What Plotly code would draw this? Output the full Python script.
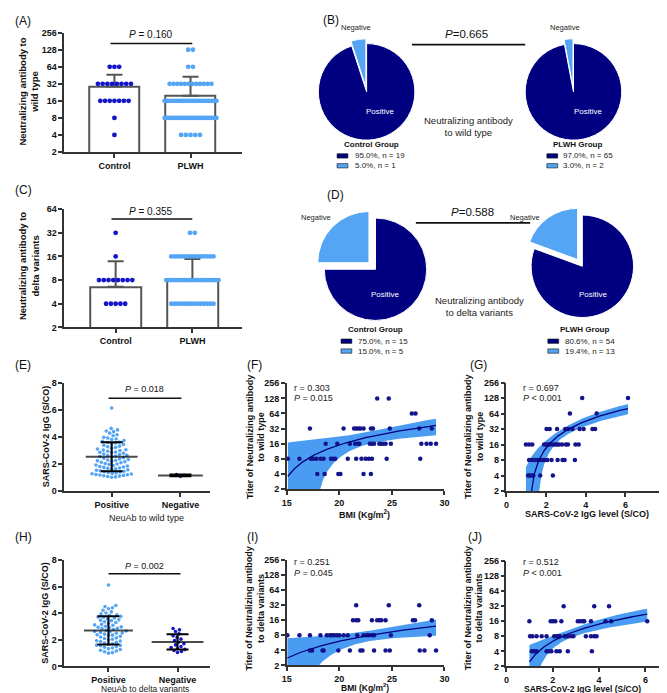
import numpy as np
import plotly.graph_objects as go

W, H = 667, 693
FONT = "Liberation Sans, Arial, sans-serif"
NAVY = "#000080"
DOT_DARK = "#1414c8"
DOT_SC = "#14148c"
LIGHT = "#55a5f5"
BAND = "#4a9cf2"
GREY = "#555555"
AXC = "#333333"

# ---------------- data ----------------
GROUPS = ["Control", "PLWH"]
LOG_TICKS_A = [2, 4, 8, 16, 32, 64, 128, 256]
LOG_TICKS_C = [2, 4, 8, 16, 32, 64]

# (A) neutralizing antibody titer to wild type: titer levels and counts
A_ctrl_titer = [64, 32, 16, 8, 4]
A_ctrl_count = [3, 8, 7, 1, 1]
A_plwh_titer = [128, 64, 32, 16, 8, 4]
A_plwh_count = [2, 2, 12, 21, 25, 5]
A_p_text = "<i>P</i> = 0.160"

# (C) delta variants (0 = negative, counted in mean but below the axis)
C_ctrl_titer = [32, 16, 8, 4, 0]
C_ctrl_count = [1, 1, 8, 5, 5]
C_plwh_titer = [32, 16, 8, 4, 0]
C_plwh_count = [2, 14, 24, 14, 13]
C_p_text = "<i>P</i> = 0.355"

# (B)/(D) pies
PIE_LABELS = ["Positive", "Negative"]
B_ctrl = [19, 1]
B_plwh = [65, 2]
B_ctrl_legend = ["95.0%, n = 19", "5.0%, n = 1"]
B_plwh_legend = ["97.0%, n = 65", "3.0%, n = 2"]
D_ctrl = [15, 5]
D_plwh = [54, 13]
D_ctrl_legend = ["75.0%, n = 15", "15.0%, n = 5"]
D_plwh_legend = ["80.6%, n = 54", "19.4%, n = 13"]

# (E) IgG by NeuAb to wild type
E_pos = [6.12, 4.62, 4.51, 4.43, 4.38, 4.27, 4.15, 4.08,
         3.96, 3.91, 3.84, 3.80, 3.72, 3.66, 3.61, 3.55, 3.49, 3.43, 3.38, 3.31, 3.27,
         3.22, 3.15, 3.10, 3.04, 2.98, 2.93, 2.88, 2.84, 2.79, 2.73, 2.69, 2.64, 2.58,
         2.55, 2.51, 2.46, 2.42, 2.37, 2.33, 2.29, 2.24, 2.20, 2.16, 2.12, 2.08, 2.03,
         1.99, 1.96, 1.92, 1.88, 1.85, 1.81, 1.77, 1.74, 1.70, 1.67, 1.63, 1.60, 1.56,
         1.53, 1.49, 1.46, 1.43, 1.40, 1.36, 1.33, 1.30, 1.27, 1.25, 1.22, 1.20, 1.18,
         1.15, 1.13, 1.10, 1.07, 1.04, 1.01, 2.61, 2.27, 3.02, 2.86, 3.58]
E_neg = [1.08, 1.15, 1.22]
E_p_text = "<i>P</i> = 0.018"

# (H) IgG by NeuAb to delta variants
H_pos = [6.12, 4.58, 4.50, 4.41, 4.33, 4.22, 4.10, 4.02, 3.95, 3.88, 3.83, 3.76, 3.70,
         3.64, 3.57, 3.50, 3.44, 3.36, 3.30, 3.22, 3.16, 3.09, 3.02, 2.97, 2.90, 2.84,
         2.78, 2.71, 2.66, 2.60, 2.55, 2.49, 2.43, 2.38, 2.32, 2.26, 2.21, 2.15, 2.10,
         2.04, 1.98, 1.93, 1.87, 1.82, 1.76, 1.71, 1.66, 1.60, 1.55, 1.49, 1.44, 1.38,
         1.33, 1.27, 1.22, 1.16, 1.10, 1.04, 1.00, 2.63, 2.35, 3.12, 2.87, 3.48, 1.91,
         2.52, 3.71, 1.58, 2.95]
H_neg = [2.85, 2.75, 2.62, 2.45, 2.30, 2.18, 2.05, 1.95, 1.82, 1.70, 1.62, 1.50,
         1.42, 1.35, 1.28, 1.20, 1.12, 1.05]
H_p_text = "<i>P</i> = 0.002"

# (F) BMI vs titer to wild type (titer -> BMI values; 0 = negative, below axis)
F_rows = {
    128: [23.6, 24.7],
    64: [26.9, 27.25],
    32: [17.2, 20.4, 21.4, 21.6, 21.8, 22.0, 22.3, 23.0, 23.2, 24.8, 27.6, 28.8],
    16: [18.7, 19.8, 21.0, 21.5, 21.8, 21.9, 22.9, 23.1, 23.3, 23.8, 24.0, 24.2, 24.4,
         24.9, 27.8, 28.3, 28.7, 29.2],
    8: [15.1, 16.2, 17.3, 17.5, 17.8, 18.2, 18.5, 19.2, 19.4, 19.6, 20.8, 21.6, 22.1,
        22.5, 22.8, 23.1, 24.5, 27.7],
    4: [17.9, 18.6, 19.9, 20.1, 22.3, 23.0],
    0: [16.5, 18.0, 19.5],
}
F_stats = ["r = 0.303", "<i>P</i> = 0.015"]

# (G) IgG vs titer to wild type
G_rows = {
    128: [3.82, 6.13],
    64: [3.20, 4.55],
    32: [2.02, 2.18, 2.55, 2.96, 3.12, 3.33, 3.69, 3.89, 4.34, 4.47],
    16: [0.98, 1.14, 1.30, 1.90, 2.00, 2.10, 2.20, 2.35, 2.45, 2.55, 2.65, 2.80, 3.00,
         3.10, 3.48, 3.64],
    8: [1.14, 1.25, 1.37, 1.46, 1.58, 1.70, 1.82, 1.95, 2.06, 2.27, 2.58, 2.83, 2.93, 3.45],
    4: [1.09, 1.17, 1.28, 1.35, 1.70, 2.34],
    0: [1.08, 1.15, 1.22],
}
G_stats = ["r = 0.697", "<i>P</i> < 0.001"]

# (I) BMI vs titer to delta
I_rows = {
    32: [21.6, 24.7, 27.6],
    16: [21.3, 21.6, 21.8, 23.1, 23.6, 23.8, 24.0, 24.4, 27.0, 27.2, 28.8],
    8: [15.05, 16.2, 17.2, 18.2, 18.8, 19.1, 19.3, 19.5, 19.75, 20.0, 20.4, 20.8,
        21.7, 22.3, 22.6, 22.8, 23.1, 23.3, 24.9, 28.6],
    4: [17.2, 17.4, 18.4, 18.5, 19.9, 21.0, 22.0, 22.2, 23.3, 24.4, 24.8, 27.65,
        28.1, 29.2],
    0: [16.5, 17.0, 17.5, 18.2, 19.0, 19.6, 20.0, 20.3, 20.9, 21.5, 22.0, 22.6,
        22.8, 23.1, 23.7, 24.3, 25.0, 26.0],
}
I_stats = ["r = 0.251", "<i>P</i> = 0.045"]

# (J) IgG vs titer to delta
J_rows = {
    32: [2.47, 3.79, 4.43],
    16: [0.99, 1.91, 2.01, 2.11, 2.37, 3.08, 3.18, 3.29, 3.36, 3.65, 4.28, 4.52, 6.08],
    8: [1.02, 1.12, 1.30, 1.52, 1.73, 2.06, 2.16, 2.23, 2.30, 2.51, 2.58, 2.65, 2.79,
        2.89, 3.43, 3.65, 3.79, 3.89],
    4: [1.09, 1.16, 1.23, 1.30, 1.73, 1.83, 1.94, 2.16, 2.30, 2.65, 3.69],
    0: [2.85, 2.75, 2.62, 2.45, 2.30, 2.18, 2.05, 1.95, 1.82, 1.70, 1.62, 1.50,
        1.42, 1.35, 1.28, 1.20, 1.12, 1.05],
}
J_stats = ["r = 0.512", "<i>P</i> < 0.001"]


# ---------------- helpers ----------------
def px(x):
    return x / W


def py(y):
    return 1 - y / H


fig = go.Figure()
annotations = []
shapes = []


def ann(x, y, text, size=9, bold=False, color="#111111", angle=0,
        xanchor="center", yanchor="middle"):
    annotations.append(dict(
        x=px(x), y=py(y), xref="paper", yref="paper", text=text, showarrow=False,
        font=dict(family=FONT, size=size, color=color,
                  weight="bold" if bold else "normal"),
        textangle=angle, xanchor=xanchor, yanchor=yanchor))


def hline(x0, x1, y, width=1.5, color="#111111"):
    shapes.append(dict(type="line", xref="paper", yref="paper",
                       x0=px(x0), x1=px(x1), y0=py(y), y1=py(y),
                       line=dict(color=color, width=width)))


def rect(x0, x1, y0, y1, color):
    shapes.append(dict(type="rect", xref="paper", yref="paper",
                       x0=px(x0), x1=px(x1), y0=py(y1), y1=py(y0),
                       fillcolor=color, line=dict(color="#111111", width=0.6)))


def axis(**kw):
    d = dict(showline=True, linecolor=AXC, linewidth=1.5, ticks="outside",
             ticklen=4, tickwidth=1.5, tickcolor=AXC, showgrid=False,
             zeroline=False, fixedrange=True,
             tickfont=dict(family=FONT, size=9, color="#111111", weight="bold"))
    d.update(kw)
    return d


def xdom(a, b):
    return [px(a), px(b)]


def ydom(top, bottom):
    return [py(bottom), py(top)]


def expand(levels, counts):
    out = []
    for v, c in zip(levels, counts):
        out += [v] * c
    return np.array(out, dtype=float)


def row_points(levels, counts, center, step=0.062):
    xs, ys = [], []
    for v, c in zip(levels, counts):
        if v <= 0 or c == 0:
            continue
        w = min(step * (c - 1), 0.55 if c < 20 else 0.68)
        offs = np.linspace(-w / 2, w / 2, c) if c > 1 else np.array([0.0])
        xs += list(center + offs)
        ys += [v] * c
    return xs, ys


def swarm(vals, sx, sy, diam=4.0):
    vals = np.asarray(vals, dtype=float)
    order = np.argsort(vals)
    placed = []
    offs = np.zeros(len(vals))
    for i in order:
        v = vals[i]
        k = 0
        while True:
            cands = [0.0] if k == 0 else [k * 0.5, -k * 0.5]
            hit = None
            for c in cands:
                ok = True
                for ox, oy in placed:
                    if (c - ox) ** 2 + ((v - oy) * sy) ** 2 < diam ** 2:
                        ok = False
                        break
                if ok:
                    hit = c
                    break
            if hit is not None:
                offs[i] = hit / sx
                placed.append((hit, v))
                break
            k += 1
    return offs


# ---------------- (A) & (C) bar + dots ----------------
def bar_panel(xa, ya, ctrl_l, ctrl_c, plwh_l, plwh_c, barw):
    c_all = expand(ctrl_l, ctrl_c)
    p_all = expand(plwh_l, plwh_c)
    means = [c_all.mean(), p_all.mean()]
    sds = [c_all.std(ddof=1), p_all.std(ddof=1)]
    fig.add_trace(go.Bar(
        x=[0, 1], y=means, width=barw, xaxis=xa, yaxis=ya,
        marker=dict(color="white", line=dict(color=GREY, width=2)),
        error_y=dict(type="data", symmetric=False, array=sds, arrayminus=[0, 0],
                     color=GREY, thickness=2, width=8),
        showlegend=False, hoverinfo="skip"))
    cx, cy = row_points(ctrl_l, ctrl_c, 0)
    fig.add_trace(go.Scatter(x=cx, y=cy, mode="markers", xaxis=xa, yaxis=ya,
                             marker=dict(color=DOT_DARK, size=4.8),
                             showlegend=False, cliponaxis=False))
    qx, qy = row_points(plwh_l, plwh_c, 1)
    fig.add_trace(go.Scatter(x=qx, y=qy, mode="markers", xaxis=xa, yaxis=ya,
                             marker=dict(color=LIGHT, size=4.8),
                             showlegend=False, cliponaxis=False))


bar_panel("x", "y", A_ctrl_titer, A_ctrl_count, A_plwh_titer, A_plwh_count, 0.66)
bar_panel("x2", "y2", C_ctrl_titer, C_ctrl_count, C_plwh_titer, C_plwh_count, 0.66)


# ---------------- (E) & (H) scatter dot plots ----------------
def dot_panel(xa, ya, pos, neg, pos_col, neg_col, mw):
    offs_p = swarm(pos, 70, 13.7)
    offs_n = swarm(neg, 70, 13.7)
    fig.add_trace(go.Scatter(x=list(0 + offs_p), y=pos, mode="markers",
                             xaxis=xa, yaxis=ya,
                             marker=dict(color=pos_col, size=3.6),
                             showlegend=False))
    fig.add_trace(go.Scatter(x=list(1 + offs_n), y=neg, mode="markers",
                             xaxis=xa, yaxis=ya,
                             marker=dict(color=neg_col, size=3.6),
                             showlegend=False))
    m = [np.mean(pos), np.mean(neg)]
    s = [np.std(pos, ddof=1), np.std(neg, ddof=1)]
    fig.add_trace(go.Scatter(
        x=[0, 1], y=m, mode="markers", xaxis=xa, yaxis=ya,
        marker=dict(symbol="line-ew", size=mw, color="black",
                    line=dict(color="black", width=2)),
        error_y=dict(type="data", array=s, color="black", thickness=2, width=11),
        showlegend=False))


dot_panel("x3", "y3", E_pos, E_neg, LIGHT, DOT_DARK, [37, 32])
dot_panel("x4", "y4", H_pos, H_neg, LIGHT, DOT_DARK, [35, 37])


# ---------------- (F) (G) (I) (J) regressions ----------------
def reg_panel(xa, ya, rows):
    xs, ys = [], []
    for t, vals in rows.items():
        xs += vals
        ys += [t] * len(vals)
    x = np.array(xs, dtype=float)
    y = np.array(ys, dtype=float)
    n = len(x)
    b, a = np.polyfit(x, y, 1)
    res = y - (a + b * x)
    s = np.sqrt((res ** 2).sum() / (n - 2))
    xm = x.mean()
    sxx = ((x - xm) ** 2).sum()
    tcrit = 1.96 + 2.4 / (n - 2)
    vis = y > 0
    grid = np.linspace(x[vis].min(), x[vis].max(), 200)
    fit = a + b * grid
    half = tcrit * s * np.sqrt(1 / n + (grid - xm) ** 2 / sxx)
    up = fit + half
    lo = np.clip(fit - half, 0.05, None)
    fig.add_trace(go.Scatter(
        x=list(grid) + list(grid[::-1]), y=list(up) + list(lo[::-1]),
        fill="toself", fillcolor=BAND, line=dict(width=0), mode="lines",
        xaxis=xa, yaxis=ya, showlegend=False, hoverinfo="skip"))
    fig.add_trace(go.Scatter(x=x[vis], y=y[vis], mode="markers", xaxis=xa, yaxis=ya,
                             marker=dict(color=DOT_SC, size=4.5),
                             showlegend=False, cliponaxis=False))
    gpos = grid[fit > 0.05]
    fig.add_trace(go.Scatter(x=gpos, y=a + b * gpos, mode="lines",
                             xaxis=xa, yaxis=ya,
                             line=dict(color=NAVY, width=1.3),
                             showlegend=False))


reg_panel("x5", "y5", F_rows)
reg_panel("x6", "y6", G_rows)
reg_panel("x7", "y7", I_rows)
reg_panel("x8", "y8", J_rows)


# ---------------- pies ----------------
def pie(values, cx, cy, r, pull):
    hs = r * (1 + pull)
    fig.add_trace(go.Pie(
        values=values, labels=PIE_LABELS, sort=False, direction="clockwise",
        rotation=0, pull=[0, pull], textinfo="none", hoverinfo="skip",
        marker=dict(colors=[NAVY, LIGHT], line=dict(color="white", width=1)),
        domain=dict(x=[px(cx - hs), px(cx + hs)], y=[py(cy + hs), py(cy - hs)]),
        showlegend=False))


pie(B_ctrl, 359, 80, 49, 0.1)
pie(B_plwh, 569, 80, 49, 0.1)
pie(D_ctrl, 368, 260, 52, 0.18)
pie(D_plwh, 578, 257, 52, 0.16)

# pie labels
for x, y in [(348, 15), (560, 15), (308, 207), (520, 207)]:
    ann(x, y, "Negative", size=7.5, color="#222222")
for x, y in [(373, 100), (584, 100), (378, 286), (589, 286)]:
    ann(x, y, "Positive", size=8, color="white")
ann(462, 115, "Neutralizing antibody<br>to wild type", size=9.5, color="#222222")
ann(474, 298, "Neutralizing antibody<br>to delta variants", size=9.5, color="#222222")


def pie_legend(cx_title, ty, title, texts, sq_x, txt_x, rows_y):
    ann(cx_title, ty, title, size=8, bold=True)
    for t, ry, col in zip(texts, rows_y, [NAVY, LIGHT]):
        rect(sq_x, sq_x + 11, ry - 2.2, ry + 2.2, col)
        ann(txt_x, ry, t, size=8, color="#222222", xanchor="left")


pie_legend(364, 133, "Control Group", B_ctrl_legend, 329, 345, [145, 155])
pie_legend(573, 133, "PLWH Group", B_plwh_legend, 542, 556, [145, 155])
pie_legend(368, 321, "Control Group", D_ctrl_legend, 333, 348, [333, 343])
pie_legend(580, 321, "PLWH Group", D_plwh_legend, 543, 558, [333, 343])

# P value bars
hline(99, 182, 31)
ann(140, 22, A_p_text, size=10)
hline(100, 182, 209)
ann(140, 201, C_p_text, size=10)
hline(97, 171, 391)
ann(134, 382, E_p_text, size=9)
hline(97, 170, 569)
ann(134, 561, H_p_text, size=9)
hline(405, 520, 32, width=1.8)
ann(460, 21, "<i>P</i>=0.665", size=11.5)
hline(409, 525, 213, width=1.8)
ann(466, 202, "<i>P</i>=0.588", size=11.5)

# panel letters
for x, y, t in [(0, 8, "(A)"), (313, 7, "(B)"), (0, 180, "(C)"), (317, 185, "(D)"),
                (0, 357, "(E)"), (236, 357, "(F)"), (462, 357, "(G)"),
                (0, 532, "(H)"), (236, 532, "(I)"), (460, 532, "(J)")]:
    ann(x, y, t, size=12, xanchor="left", color="#111111")

# axis titles
ann(16, 80, "Neutralizing antibody to<br>wild type", size=9.5, bold=True, angle=-90)
ann(16, 257, "Neutralizing antibody to<br>delta variants", size=9.5, bold=True, angle=-90)
ann(33, 430, "SARS-CoV-2 IgG (S/CO)", size=9, bold=True, angle=-90)
ann(33, 609, "SARS-CoV-2 IgG (S/CO)", size=9, bold=True, angle=-90)
ann(246, 430, "Titer of Neutralizing antibody<br>to wild type", size=9, bold=True, angle=-90)
ann(468, 430, "Titer of Neutralizing antibody<br>to wild type", size=9, bold=True, angle=-90)
ann(246, 604, "Titer of Neutralizing antibody<br>to delta variants", size=9, bold=True, angle=-90)
ann(468, 604, "Titer of Neutralizing antibody<br>to delta variants", size=9, bold=True, angle=-90)
ann(357, 508, "BMI (Kg/m<sup>2</sup>)", size=9, bold=True)
ann(583, 508, "SARS-CoV-2 IgG level (S/CO)", size=9, bold=True)
ann(357, 684, "BMI (Kg/m<sup>2</sup>)", size=8.5, bold=True)
ann(578, 686, "SARS-CoV-2 IgG level (S/CO)", size=8.5, bold=True)
ann(136, 512, "NeuAb to wild type", size=9, color="#222222")
ann(134, 686, "NeuAb to delta variants", size=8.5, color="#222222")

# stats text
for x, y, st in [(283, 380, F_stats), (516, 380, G_stats),
                 (283, 557, I_stats), (516, 557, J_stats)]:
    ann(x, y, st[0], size=9, xanchor="left", color="#222222")
    ann(x, y + 11, st[1], size=9, xanchor="left", color="#222222")

# ---------------- axes ----------------
lg = np.log10
cat_axis = dict(tickvals=[0, 1], ticktext=GROUPS)
layout_axes = dict(
    xaxis=axis(domain=xdom(52, 232), range=[-0.66, 1.67], anchor="y", **cat_axis),
    yaxis=axis(domain=ydom(20, 141), type="log", range=[lg(2), lg(256)],
               tickvals=LOG_TICKS_A, anchor="x"),
    xaxis2=axis(domain=xdom(52, 232), range=[-0.67, 1.64], anchor="y2", **cat_axis),
    yaxis2=axis(domain=ydom(199, 319), type="log", range=[lg(2), lg(64)],
                tickvals=LOG_TICKS_C, anchor="x2"),
    xaxis3=axis(domain=xdom(52, 200), range=[-0.69, 1.43], anchor="y3",
                tickvals=[0, 1], ticktext=["Positive", "Negative"]),
    yaxis3=axis(domain=ydom(375, 485), range=[0, 8], tickvals=[0, 2, 4, 6, 8],
                anchor="x3"),
    xaxis4=axis(domain=xdom(52, 200), range=[-0.64, 1.47], anchor="y4",
                tickvals=[0, 1], ticktext=["Positive", "Negative"]),
    yaxis4=axis(domain=ydom(555, 663), range=[0, 8], tickvals=[0, 2, 4, 6, 8],
                anchor="x4"),
    xaxis5=axis(domain=xdom(278, 438), range=[15, 30], tickvals=[15, 20, 25, 30],
                anchor="y5"),
    yaxis5=axis(domain=ydom(375.7, 483), type="log", range=[lg(2), lg(256)],
                tickvals=LOG_TICKS_A, anchor="x5"),
    xaxis6=axis(domain=xdom(501, 662), range=[0, 8], tickvals=[0, 2, 4, 6, 8],
                anchor="y6"),
    yaxis6=axis(domain=ydom(375, 485), type="log", range=[lg(2), lg(256)],
                tickvals=LOG_TICKS_A, anchor="x6"),
    xaxis7=axis(domain=xdom(278, 438), range=[15, 30], tickvals=[15, 20, 25, 30],
                anchor="y7"),
    yaxis7=axis(domain=ydom(555, 662), type="log", range=[lg(2), lg(256)],
                tickvals=LOG_TICKS_A, anchor="x7"),
    xaxis8=axis(domain=xdom(501, 665.5), range=[0, 7], tickvals=[0, 2, 4, 6],
                anchor="y8"),
    yaxis8=axis(domain=ydom(556, 663), type="log", range=[lg(2), lg(256)],
                tickvals=LOG_TICKS_A, anchor="x8"),
)

fig.update_layout(
    width=W, height=H, margin=dict(l=0, r=0, t=0, b=0),
    paper_bgcolor="white", plot_bgcolor="white",
    font=dict(family=FONT, size=9, color="#111111"),
    showlegend=False, annotations=annotations, shapes=shapes,
    bargap=0, **layout_axes)

fig.write_html("out.html", config=dict(displayModeBar=False))
